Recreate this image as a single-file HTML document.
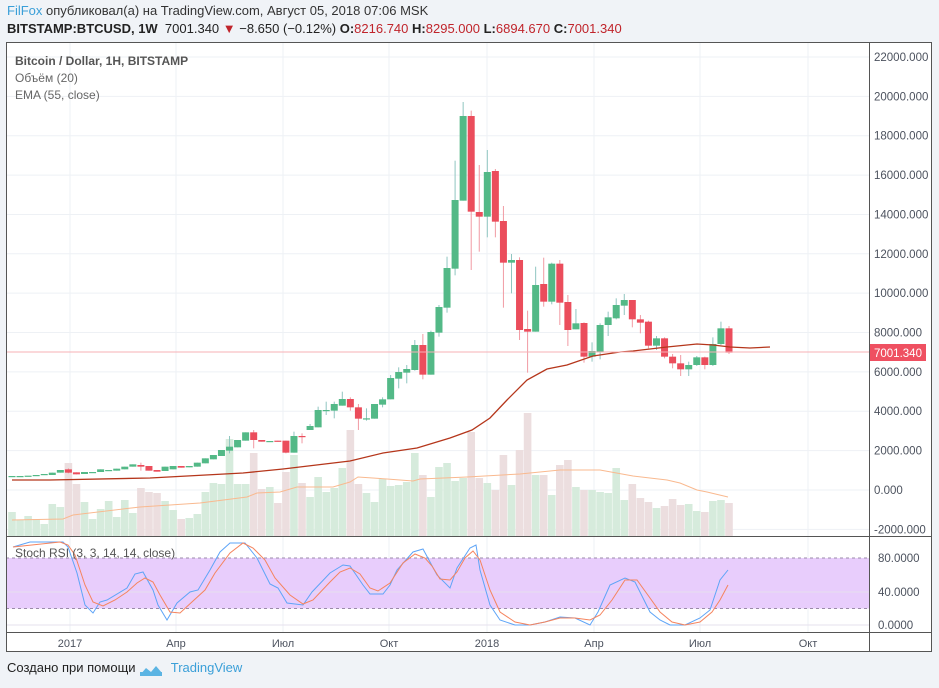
<!DOCTYPE html>
<html><head><meta charset="utf-8"><style>
body{margin:0;width:939px;height:688px;background:#f0f3f7;font-family:"Liberation Sans",sans-serif;overflow:hidden;position:relative}
.h1{position:absolute;left:7px;top:3px;font-size:13px;color:#333}
.h2{position:absolute;left:7px;top:21px;font-size:13px;color:#222}
.r{color:#c0242b}
.ft{position:absolute;left:7px;top:660px;font-size:13px;color:#222}
svg{position:absolute;left:0;top:0}
</style></head><body>
<div class="h1"><span style="color:#3a9fd8">FilFox</span> опубликовал(а) на TradingView.com, Август 05, 2018 07:06 MSK</div>
<div class="h2"><b>BITSTAMP:BTCUSD, 1W</b>&nbsp; 7001.340 <span class="r">▼</span> −8.650 (−0.12%) <b>O:</b><span class="r">8216.740</span> <b>H:</b><span class="r">8295.000</span> <b>L:</b><span class="r">6894.670</span> <b>C:</b><span class="r">7001.340</span></div>
<div class="ft">Создано при помощи <span style="display:inline-block;width:24px"></span> <span style="color:#3a9fd8;margin-left:4px">TradingView</span></div>
<svg id="s" width="939" height="688" xmlns="http://www.w3.org/2000/svg"></svg>
<script>
const NS="http://www.w3.org/2000/svg",S=document.getElementById('s');
function el(t,a,txt){const e=document.createElementNS(NS,t);for(const k in a)e.setAttribute(k,a[k]);if(txt!==undefined)e.textContent=txt;S.appendChild(e);return e;}
el('rect',{x:6,y:42,width:926,height:610,fill:'#fff'});
for(let i=0;i<=12;i++){const y=57+i*39.36;el('line',{x1:6,x2:869,y1:y,y2:y,stroke:'#eef1f5'});el('text',{x:874,y:y+4,'font-size':11.5,fill:'#4c525e'},(22000-i*2000)+'.000');}
const vx=[70,176,283,389,487,594,700,808];
vx.forEach(x=>el('line',{x1:x,x2:x,y1:42,y2:632,stroke:'#eef1f5'}));
el('rect',{x:6,y:558,width:863,height:50.5,fill:'#e8cdfc'});
[558,608.5].forEach(y=>el('line',{x1:6,x2:869,y1:y,y2:y,stroke:'#9a8aa8','stroke-dasharray':'3,3'}));
[592,625].forEach(y=>el('line',{x1:6,x2:869,y1:y,y2:y,stroke:'#e6e0ee'}));
[['80.0000',558],['40.0000',592],['0.0000',625]].forEach(a=>el('text',{x:878,y:a[1]+4,'font-size':11.5,fill:'#4c525e'},a[0]));
const C=[];
const z2=[[168,168],[168,168],[167,167],[165,165],[165,162],[165,158],[158,150],[148,158,145,160],[157,163],[162,156],[156,156],[156,148],[150,150],[152,146],[148,140],[140,133],[135,140,128,152],[138,152],[150,155],[153,140],[148,138],[138,143],[142,138],[140,128],[130,115],[118,105],[108,90],[92,80,48,100],[82,60],[62,37],[37,60,30,85],[60,65],[63,63],[62,65],[62,98,62,100],[98,48,35,98],[48,50,40,70]];
z2.forEach(c=>C.push(c.map(v=>420+v/3)));
const z4=[[1020,1008,1002,1020],[1012,960,950,1012],[960,960,935,975],[962,942,935,985],[947,927,905,947],[927,952,922,962],[952,986,942,1020],[985,985,955,992],[986,942],[944,928,922,952],[928,864,855,928],[866,846,832,895],[848,837,825,880],[840,765,750,842],[765,854,732,868],[854,726,722,854],[728,651,645,740],[653,534,500,668],[536,330,212,556],[332,78,36,332],[78,365,62,540],[366,380,225,485],[380,246,180,442],[243,395,237,442],[393,518,348,653],[518,510,492,610],[510,720,502,750],[717,725,662,848],[725,585,530,725],[582,635,503,650],[635,521,518,643],[521,638,510,705],[636,720,615,768],[718,700,657,718],[699,800,697,818],[800,783,757,815],[787,705,700,808],[705,682,665,738],[685,645,625,688]];
z4.forEach(c=>C.push(c.map(v=>90+v/3)));
const z3=[[77,60,42,105],[60,118,60,142],[118,128,105,160],[125,197,122,205],[197,175,168,210],[175,230,172,235],[230,250,222,265],[250,268,225,288],[268,255,245,288],[255,232,228,258],[232,255,230,268],[255,192,172,258],[192,145,125,195],[145,218,138,222]];
z3.forEach(c=>C.push(c.map(v=>280+v/3)));
const vt=[512,520,516,519,524,504,507,463,484,502,519,509,501,517,500,513,488,492,493,501,510,519,518,514,492,483,484,439,484,484,453,489,487,503,472,455,483,497,477,492,488,468,430,484,493,502,479,486,485,482,453,475,497,467,463,481,
478,432,478,483,490,455,485,450,413,475,475,495,465,460,487,490,490,492,493,468,500,484,498,502,508,506,499,505,504,511,512,501,500,503];
const N=C.length,dx=(729-12)/(N-1);
for(let i=0;i<N;i++){const x=12+i*dx,c=C[i];const up=c[1]<=c[0];
 const t=vt[i]||500;el('rect',{x:x-3.8,y:t,width:7.6,height:536-t,fill:up?'#d6ebdc':'#ecdedf'});}
function poly(pts,col,w){el('polyline',{points:pts.map(p=>p.join(',')).join(' '),fill:'none',stroke:col,'stroke-width':w||1});}
poly([[12,520],[63,519],[73,515],[140,507],[200,503],[247,497],[257,493],[280,492],[297,487],[333,487],[350,482],[358,477],[387,479],[413,481],[420,479],[467,477],[520,474],[560,470],[600,470],[633,476],[667,480],[680,483],[697,490],[707,492],[728,497]],'#f9b98f',1);
for(let i=0;i<N;i++){const x=12+i*dx,c=C[i];const up=c[1]<=c[0];const col=up?'#53b987':'#eb4d5c',wc=up?'#8fc5c0':'#f19aa3';
 const hi=c.length>2?c[2]:Math.min(c[0],c[1]),lo=c.length>3?c[3]:Math.max(c[0],c[1]);
 el('line',{x1:x,x2:x,y1:hi,y2:lo,stroke:wc});
 const t=Math.min(c[0],c[1]),b=Math.max(c[0],c[1]);
 el('rect',{x:x-3.5,y:t,width:7,height:Math.max(1.2,b-t),fill:col});}
poly([[12,480],[50,480],[150,478],[243,473],[283,469],[350,461],[383,453],[417,448],[450,438],[472,430],[490,418],[507,400],[527,380],[547,369],[567,365],[593,356],[620,352],[633,351],[667,347],[697,344],[713,345],[730,347],[750,348],[770,347]],'#b5361b',1.3);
el('line',{x1:6,x2:869,y1:352,y2:352,stroke:'#f7b0b6'});
el('rect',{x:870,y:344,width:56,height:17,fill:'#ef5061'});
el('text',{x:874,y:357,'font-size':11.5,fill:'#fff'},'7001.340');
poly([[13,547],[30,542],[63,542],[68,547],[77,573],[85,605],[93,613],[100,602],[107,600],[127,588],[135,574],[143,572],[153,590],[158,605],[167,620],[177,603],[190,592],[198,590],[210,570],[220,552],[230,543],[245,543],[257,558],[270,584],[278,588],[287,603],[303,605],[312,592],[330,573],[343,565],[350,566],[363,585],[370,594],[383,594],[390,585],[397,570],[413,552],[423,549],[437,575],[450,588],[457,568],[470,548],[476,545],[480,570],[490,605],[500,620],[515,625],[530,625],[545,622],[560,617],[575,618],[590,625],[598,612],[610,585],[625,578],[635,582],[650,612],[660,620],[670,625],[685,625],[700,618],[710,610],[720,580],[728,570]],'#5ea4f7',1);
poly([[13,547],[60,542],[68,545],[75,555],[85,585],[93,602],[103,606],[115,600],[127,592],[137,583],[145,578],[153,582],[160,595],[170,612],[180,613],[193,601],[205,590],[215,573],[230,553],[243,543],[253,548],[265,560],[275,578],[290,595],[303,604],[313,600],[330,582],[340,572],[350,568],[360,574],[370,588],[378,591],[390,583],[403,563],[415,554],[425,558],[432,566],[440,579],[450,580],[457,572],[465,558],[473,551],[480,560],[490,590],[500,612],[515,622],[530,625],[545,622],[560,618],[575,618],[590,620],[600,615],[612,600],[625,580],[637,580],[650,598],[660,612],[672,622],[685,625],[700,622],[712,612],[720,600],[728,585]],'#f5845e',1);
el('line',{x1:6,x2:932,y1:536.5,y2:536.5,stroke:'#555'});
el('line',{x1:6,x2:932,y1:632.5,y2:632.5,stroke:'#555'});
el('line',{x1:869.5,x2:869.5,y1:42,y2:652,stroke:'#555'});
el('rect',{x:6.5,y:42.5,width:925,height:609,fill:'none',stroke:'#555'});
[['2017',70],['Апр',176],['Июл',283],['Окт',389],['2018',487],['Апр',594],['Июл',700],['Окт',808]].forEach(a=>el('text',{x:a[1],y:647,'font-size':11,fill:'#4c525e','text-anchor':'middle'},a[0]));
[['Bitcoin / Dollar, 1H, BITSTAMP',65,'#555',1],['Объём (20)',82,'#666',0],['EMA (55, close)',99,'#666',0]].forEach(a=>el('text',{x:15,y:a[1],'font-size':12,fill:a[2],'font-weight':a[3]?'bold':'normal'},a[0]));
el('text',{x:15,y:557,'font-size':12,fill:'#555'},'Stoch RSI (3, 3, 14, 14, close)');
el('path',{d:'M140 675 l6 -7 l5 4 l5 -6 l6 7 z',fill:'#5bb4e3'});
el('rect',{x:140,y:672,width:22,height:4,fill:'#5bb4e3'});
</script>
</body></html>
